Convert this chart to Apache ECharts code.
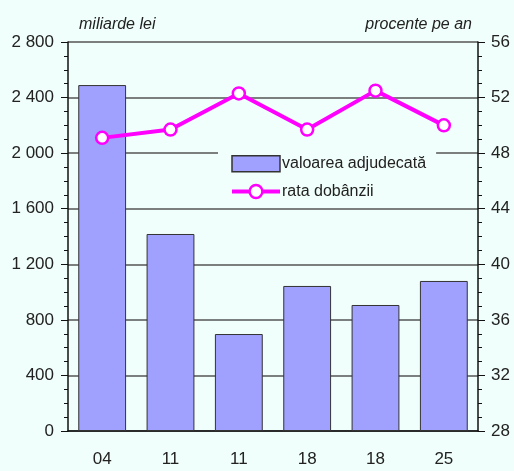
<!DOCTYPE html>
<html><head><meta charset="utf-8">
<script src="https://cdn.jsdelivr.net/npm/echarts@6/dist/echarts.min.js"></script>
<style>html,body{margin:0;padding:0;background:#F0FFFB;}#c{width:514px;height:471px;}</style>
</head><body><div id="c"></div>
<script>
const categories = ['04','11','11','18','18','25'];
const valoarea = [2490, 1418, 698, 1044, 907, 1080];
const rata = [49.1, 49.7, 52.3, 49.7, 52.5, 50.0];
const leftName = 'miliarde lei';
const rightName = 'procente pe an';
const seriesNames = ['valoarea adjudecată', 'rata dobânzii'];
const fmtThousands = v => String(v).replace(/\B(?=(\d{3})+(?!\d))/g, ' ');

const chart = echarts.init(document.getElementById('c'));
const FONT = 'Liberation Sans, Arial, sans-serif';
chart.setOption({
  backgroundColor: '#F0FFFB',
  textStyle: {fontFamily: FONT},
  animation: false,
  grid: {left: 68, right: 36, top: 42, bottom: 40},
  legend: {
    left: 218, top: 149, orient: 'vertical', itemGap: 11,
    backgroundColor: '#F0FFFB', padding: [6, 10, 6, 12],
    itemWidth: 48, itemHeight: 16,
    textStyle: {fontSize: 16, color: '#222', fontFamily: FONT, padding: [0, 0, 0, -3]},
    data: [
      {name: seriesNames[0], icon: 'rect', itemStyle: {borderColor: '#333', borderWidth: 1.5}},
      {name: seriesNames[1], lineStyle: {width: 4}, itemStyle: {borderWidth: 2.5}}
    ]
  },
  graphic: [
    {type: 'text', left: 79, top: 17, style: {text: leftName, font: 'italic 16px ' + FONT, fill: '#222'}},
    {type: 'text', right: 42, top: 17, style: {text: rightName, font: 'italic 16px ' + FONT, fill: '#222'}}
  ],
  xAxis: {
    type: 'category', data: categories,
    axisLine: {lineStyle: {color: '#111', width: 1.5}},
    axisTick: {show: false},
    axisLabel: {fontSize: 17, color: '#222', margin: 20}
  },
  yAxis: [
    {
      type: 'value', min: 0, max: 2800, interval: 400, position: 'left',
      axisLine: {show: true, lineStyle: {color: '#111', width: 1.5}},
      axisTick: {show: true, inside: false, length: 7, lineStyle: {color: '#111'}},
      minorTick: {show: true, splitNumber: 4, length: 4, lineStyle: {color: '#111'}},
      splitLine: {show: true, lineStyle: {color: '#555', width: 1.5}},
      axisLabel: {fontSize: 17, color: '#222', margin: 14, formatter: v => fmtThousands(v)}
    },
    {
      type: 'value', min: 28, max: 56, interval: 4, position: 'right',
      axisLine: {show: true, lineStyle: {color: '#111', width: 1.5}},
      axisTick: {show: true, inside: false, length: 7, lineStyle: {color: '#111'}},
      minorTick: {show: true, splitNumber: 4, length: 4, lineStyle: {color: '#111'}},
      splitLine: {show: false},
      axisLabel: {fontSize: 17, color: '#222', margin: 13}
    }
  ],
  series: [
    {
      name: seriesNames[0], type: 'bar', data: valoarea, yAxisIndex: 0,
      barWidth: '70%',
      itemStyle: {color: '#A0A0FF', borderColor: '#333', borderWidth: 1}
    },
    {
      name: seriesNames[1], type: 'line', data: rata, yAxisIndex: 1,
      symbol: 'circle', symbolSize: 12,
      lineStyle: {color: '#FF00FF', width: 4},
      itemStyle: {color: '#FFFFFF', borderColor: '#FF00FF', borderWidth: 2.5}
    }
  ]
});
</script></body></html>
